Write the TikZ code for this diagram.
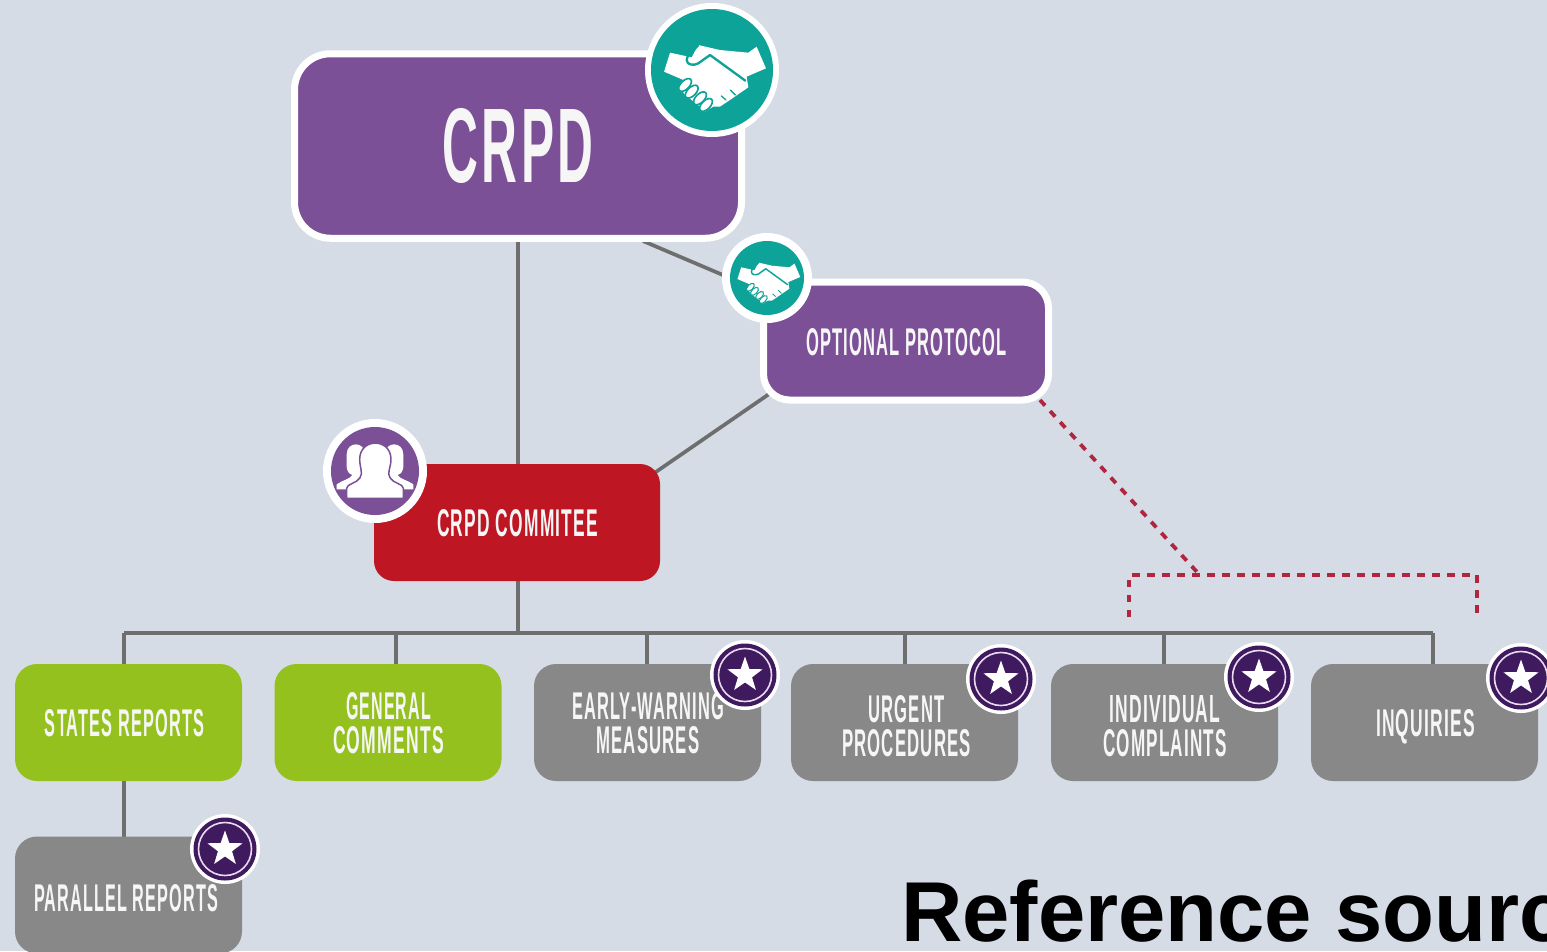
\documentclass[tikz,border=0pt]{standalone}
\usepackage{fontspec}
\usepackage{graphicx}
\setmainfont{Liberation Sans}
\newfontfamily\spaced[LetterSpace=7]{Liberation Sans}
\usetikzlibrary{shapes.geometric}
\definecolor{bgc}{HTML}{D5DCE6}
\definecolor{purp}{HTML}{7B5096}
\definecolor{teal2}{HTML}{0DA399}
\definecolor{redb}{HTML}{BE1622}
\definecolor{greenb}{HTML}{95C11F}
\definecolor{grayb}{HTML}{888888}
\definecolor{linec}{HTML}{6E6E6E}
\definecolor{dashc}{HTML}{B0263F}
\definecolor{darkp}{HTML}{3F1A5E}
\definecolor{ringc}{HTML}{EADCF0}
\definecolor{txt}{HTML}{F6F6F6}
\pgfdeclarelayer{bglayer}
\pgfdeclarelayer{edges}
\pgfsetlayers{bglayer,edges,main}
\newcommand{\fitw}[3][27pt]{\resizebox{#2pt}{#1}{\spaced\bfseries #3}}
\tikzset{
  box/.style={rectangle,rounded corners=22pt,minimum width=227pt,minimum height=117pt,inner sep=0pt,outer sep=0pt},
  greenbox/.style={box,fill=greenb},
  graybox/.style={box,fill=grayb},
  purpbox/.style={rectangle,draw=white,line width=7pt,fill=purp,inner sep=0pt,outer sep=0pt},
  lbl/.style={inner sep=0pt,outer sep=0pt,text=txt,align=center,font=\fontsize{30}{34}\selectfont},
  conn/.style={draw=linec,line width=3.7pt},
  dashline/.style={draw=dashc,line width=3.8pt,dash pattern=on 7.5pt off 7.5pt},
  ring/.style={circle,inner sep=0pt,outer sep=0pt},
}
\newcommand{\starbadge}[3]{%
  \node[ring,fill=white,minimum size=70pt] (#1) at (#2,#3) {};
  \node[ring,fill=darkp,minimum size=63pt] (#1a) at (#1) {};
  \node[ring,draw=ringc,line width=1.6pt,minimum size=53pt] (#1b) at (#1) {};
  \node[star,star points=5,star point ratio=2.5,fill=white,inner sep=0pt,minimum size=37pt] (#1c) at (#1) {};
}
\newcommand{\shakebadge}[6]{% name,x,y,router,rinner,scale
  \node[ring,fill=white,minimum size=#4pt] (#1) at (#2,#3) {};
  \node[ring,fill=teal2,minimum size=#5pt] (#1a) at (#1) {};
  \begin{scope}[shift={(#1)},scale=#6]
    \fill[white] (-126,-52)--(-61,-38)--(-41,-75)--(24,-60)--(109,-52)--(134,-70)--(162,-5)--(104,20)--(109,52)--(54,90)--(24,110)--(4,110)--(-21,125)--(-36,110)--(-61,90)--(-81,75)--(-96,52)--(-86,30)--(-144,5)--cycle;
    \draw[teal2,line width=#6*7pt,line cap=round,line join=round] (-41,-75) .. controls (-60,-55) and (-76,-45) .. (-76,-30) .. controls (-76,-15) and (-55,-12) .. (-41,-20) -- (-6,-45) -- (100,32);
    \foreach \ex/\ey in {-81/45,-61/65,-36/85,-18/105}{
      \draw[teal2,fill=white,line width=#6*5pt,rotate around={45:(\ex,\ey)}] (\ex,\ey) ellipse (24 and 13);
    }
    \draw[teal2,line width=#6*4pt,line cap=round] (70,75)--(55,60) (42,90)--(28,78);
  \end{scope}
}
\begin{document}
\begin{tikzpicture}[x=1pt,y=-1pt]
\useasboundingbox (0,0) rectangle (1547,951);
\begin{pgfonlayer}{bglayer}
  \fill[bgc] (0,0) rectangle (1547,951);
\end{pgfonlayer}
% boxes
\node[purpbox,rounded corners=36pt,minimum width=447pt,minimum height=184.5pt,text=txt] (crpd) at (518,146) {\fitw[74pt]{151}{CRPD}};
\node[purpbox,rounded corners=26pt,minimum width=285pt,minimum height=118pt] (opt) at (906,341) {};
\node[lbl] (optl) at (906.5,342.5) {\fitw{201}{OPTIONAL PROTOCOL}};
\node[box,fill=redb,rounded corners=20pt,minimum width=286pt] (comm) at (517,522.5) {};
\node[lbl] (comml) at (517.5,523.5) {\fitw{161}{CRPD COMMITEE}};
\node[greenbox] (states) at (128.5,722.5) {};
\node[lbl] (statesl) at (124.5,723.5) {\fitw{159}{STATES REPORTS}};
\node[greenbox] (general) at (388,722.5) {};
\node[lbl] (generall) at (388.5,723) {\fitw{85}{GENERAL}\\\fitw{111}{COMMENTS}};
\node[graybox] (early) at (647.5,722.5) {};
\node[lbl] (earlyl) at (648,723) {\fitw{152}{EARLY-WARNING}\\\fitw{103}{MEASURES}};
\node[graybox] (urgent) at (904.5,722.5) {};
\node[lbl] (urgentl) at (906.5,726) {\fitw{76}{URGENT}\\\fitw{129}{PROCEDURES}};
\node[graybox] (indiv) at (1164.5,722.5) {};
\node[lbl] (indivl) at (1165,726) {\fitw{111}{INDIVIDUAL}\\\fitw{124}{COMPLAINTS}};
\node[graybox] (inq) at (1424.5,722.5) {};
\node[lbl] (inql) at (1425.5,727) {\fitw{99}{INQUIRIES}};
\node[graybox] (parallel) at (128.5,895) {};
\node[lbl] (parallell) at (126,898.5) {\fitw{184}{PARALLEL REPORTS}};
% connector end points
\coordinate (crpdslant) at (643,241);
\coordinate (optslant) at (730,278);
\coordinate (optlow) at (772,392);
\coordinate (commslant) at (650,476);
\coordinate (busl) at (124,633);
\coordinate (busr) at (1433,633);
\coordinate (busa) at (396,633);
\coordinate (busb) at (647,633);
\coordinate (busc) at (905,633);
\coordinate (busd) at (1164,633);
\coordinate (buse) at (518,633);
\coordinate (optdash) at (1040,400);
\coordinate (brl) at (1129,617);
\coordinate (brtl) at (1129,575);
\coordinate (brm) at (1197,572);
\coordinate (brtr) at (1477,575);
\coordinate (brr) at (1477,617);
\begin{pgfonlayer}{edges}
  \draw[conn] (crpd.south -| buse) -- (comm.north -| buse);
  \draw[conn] (crpdslant) -- (optslant);
  \draw[conn] (optlow) -- (commslant);
  \draw[conn] (comm.south -| buse) -- (buse);
  \draw[conn,line cap=square] (busl) -- (busr);
  \draw[conn] (busl) -- (states.north -| busl);
  \draw[conn] (busa) -- (general.north -| busa);
  \draw[conn] (busb) -- (early.north -| busb);
  \draw[conn] (busc) -- (urgent.north -| busc);
  \draw[conn] (busd) -- (indiv.north -| busd);
  \draw[conn] (busr) -- (inq.north -| busr);
  \draw[conn] (states.south -| busl) -- (parallel.north -| busl);
  \draw[dashline] (optdash) -- (brm);
  \draw[dashline] (brl) -- (brtl) -- (brtr) -- (brr);
\end{pgfonlayer}
% badges
\shakebadge{shakea}{712}{70}{134}{122}{0.333}
\shakebadge{shakeb}{767}{278}{90}{74}{0.205}
\node[ring,fill=white,minimum size=104pt] (people) at (375,471) {};
\node[ring,fill=purp,minimum size=88pt] (peoplea) at (people) {};
\begin{scope}[shift={(people)},scale=0.333]
  \fill[white] (-85,-50) .. controls (-85,-90) and (-30,-90) .. (-30,-50) -- (-30,55) -- (-115,55) -- (-115,40) .. controls (-100,28) and (-75,25) .. (-68,12) .. controls (-90,5) and (-85,-20) .. (-85,-50) -- cycle;
  \fill[white] (85,-50) .. controls (85,-90) and (30,-90) .. (30,-50) -- (30,55) -- (115,55) -- (115,40) .. controls (100,28) and (75,25) .. (68,12) .. controls (90,5) and (85,-20) .. (85,-50) -- cycle;
  \draw[purp,fill=white,line width=1.5pt,line join=round] (-46,-35) .. controls (-46,-100) and (48,-100) .. (48,-35) .. controls (48,-10) and (35,5) .. (45,20) .. controls (55,38) and (85,38) .. (85,52) -- (85,82) -- (-85,82) -- (-85,52) .. controls (-85,38) and (-55,38) .. (-45,20) .. controls (-35,5) and (-46,-10) .. (-46,-35) -- cycle;
\end{scope}
\starbadge{stara}{745}{675}
\starbadge{starb}{1001}{679}
\starbadge{starc}{1259}{677}
\starbadge{stard}{1521}{678}
\starbadge{stare}{225}{849}
\node[anchor=base west,inner sep=0pt,text=black,font=\fontsize{85}{90}\selectfont\bfseries] (refsrc) at (901,941) {Reference sourc};
\end{tikzpicture}
\end{document}
